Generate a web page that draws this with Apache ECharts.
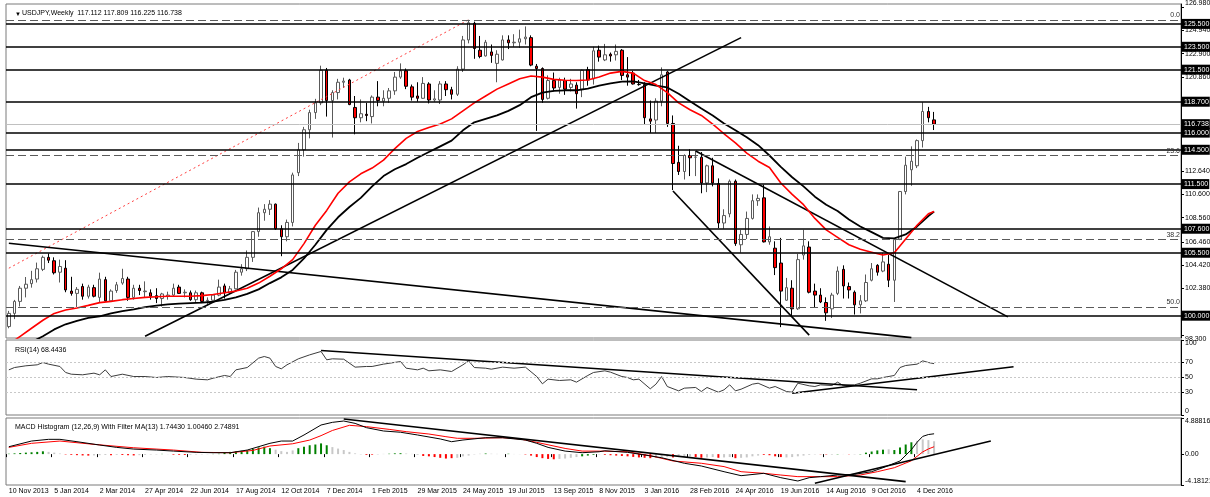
<!DOCTYPE html>
<html lang="en">
<head>
<meta charset="UTF-8">
<title>USDJPY Weekly</title>
<style>
    * { margin: 0; padding: 0; }
    body { background: #ffffff; }
    #chart { width: 1210px; height: 497px; }
</style>
<script src="https://cdn.jsdelivr.net/npm/echarts@6.0.0/dist/echarts.min.js"></script>
</head>
<body>
<div id="chart"></div>
<script>
// weekly bars from 10 Nov 2013: open, high, low, close
var ohlc = [
 [99.05,100.42,98.90,100.20],[100.20,101.38,99.70,101.25],[101.25,102.60,100.80,102.40],[102.40,103.38,101.60,102.75],
 [102.80,103.92,102.45,103.15],[103.20,104.64,102.90,104.10],[104.05,105.25,103.90,105.10],[105.10,105.44,104.60,104.85],
 [104.80,105.10,103.60,103.75],[103.80,104.90,102.90,104.30],[104.15,104.85,102.05,102.25],[102.15,103.40,101.75,101.95],
 [101.95,102.50,100.76,102.30],[102.55,102.80,101.40,101.70],[101.70,102.70,101.50,102.50],[102.45,102.70,101.60,101.70],
 [101.60,103.76,101.20,103.20],[103.15,103.40,101.20,101.30],[101.30,102.30,101.20,102.15],[102.20,102.95,102.00,102.70],
 [102.85,104.10,102.70,103.25],[103.20,103.40,101.30,101.60],[101.60,102.70,101.40,102.40],[102.40,102.70,101.80,102.20],
 [102.10,103.00,101.60,102.15],[102.00,102.30,101.40,101.70],[101.75,102.40,101.10,101.50],[101.50,102.00,100.80,101.90],
 [101.70,102.10,101.40,101.80],[101.80,102.80,101.70,102.40],[102.50,102.70,101.90,101.95],[102.00,102.30,101.60,102.05],
 [102.00,102.20,101.30,101.40],[101.40,102.20,101.20,102.00],[102.00,102.10,101.10,101.25],[101.30,101.60,100.90,101.35],
 [101.35,101.90,101.30,101.80],[101.80,103.15,101.70,102.50],[102.60,102.80,101.50,102.00],[102.00,102.60,101.90,102.35],
 [102.35,104.00,102.30,103.80],[103.80,104.50,103.50,104.10],[104.10,105.70,103.90,105.10],[105.10,107.40,104.70,107.35],
 [107.35,109.45,106.90,109.00],[109.00,109.75,108.30,109.30],[109.30,110.10,108.80,109.75],[109.75,109.80,107.50,107.60],
 [107.60,107.90,105.20,106.90],[106.90,108.40,106.50,108.15],[108.15,112.50,107.80,112.30],[112.50,115.10,112.20,114.50],
 [114.50,116.50,113.90,116.25],[116.25,118.00,115.50,117.75],[117.75,118.95,117.20,118.60],[118.60,121.85,118.40,121.45],
 [121.45,121.65,117.40,118.80],[118.80,119.70,115.57,119.50],[119.50,120.70,118.90,120.40],[120.40,120.80,119.90,120.50],
 [120.60,120.70,118.40,118.45],[118.20,119.20,115.85,117.30],[117.30,118.90,116.90,117.65],[117.60,118.60,117.00,117.50],
 [117.40,119.25,116.80,119.10],[119.10,120.50,118.30,118.80],[118.75,119.70,118.30,119.00],[119.00,119.90,118.60,119.65],
 [119.65,121.30,119.30,120.85],[120.85,122.05,120.70,121.40],[121.40,121.60,119.80,120.05],[120.00,120.20,118.80,119.10],
 [119.20,120.40,118.70,119.00],[119.00,120.85,118.95,120.30],[120.25,120.40,118.55,118.85],[118.85,119.70,118.70,118.95],
 [118.85,120.50,118.50,120.25],[120.25,120.50,119.20,119.75],[119.75,120.00,118.90,119.35],[119.35,121.80,119.20,121.55],
 [121.55,124.45,121.30,124.10],[124.10,125.86,123.80,125.60],[125.55,125.70,122.45,123.35],[123.20,124.45,122.50,122.65],
 [122.70,124.10,122.65,123.90],[123.05,123.70,122.10,122.75],[122.05,123.20,120.40,122.85],[122.35,124.50,122.30,124.10],
 [124.10,124.50,123.30,123.85],[123.85,124.60,123.50,123.90],[123.90,125.00,123.40,124.20],[124.20,125.28,123.70,124.35],
 [124.30,124.50,121.80,121.90],[121.80,122.00,116.15,121.60],[121.60,121.70,118.60,118.90],[119.00,121.00,118.90,120.55],
 [120.55,121.25,119.60,119.90],[119.95,120.80,119.40,120.60],[120.55,120.80,119.30,119.80],[119.95,120.70,119.60,120.25],
 [120.15,120.40,118.10,119.40],[119.80,121.50,119.10,121.45],[121.50,121.75,120.10,120.60],[120.70,123.50,120.20,123.15],
 [123.20,123.60,122.20,122.60],[122.35,123.75,122.25,122.80],[122.85,123.00,122.20,122.70],[122.80,123.70,122.30,123.10],
 [123.20,123.30,120.60,121.00],[121.05,122.60,120.10,120.85],[121.20,121.40,120.20,120.25],[120.20,120.60,120.10,120.20],
 [120.20,120.40,116.70,117.30],[117.20,118.80,115.98,117.00],[117.10,119.00,115.97,118.75],[118.75,121.70,118.30,121.05],
 [121.30,121.40,116.50,116.80],[116.80,117.50,110.98,113.30],[113.40,114.85,112.30,112.60],[112.60,114.10,111.90,114.00],
 [114.00,114.55,112.20,113.80],[113.85,114.40,112.20,113.85],[113.85,114.30,110.70,111.60],[111.60,113.20,110.80,113.10],
 [113.10,113.80,111.30,111.60],[111.55,112.00,107.65,108.10],[108.10,109.30,107.60,108.75],[108.90,111.90,108.60,111.75],
 [111.75,111.90,106.10,106.30],[106.20,107.50,105.50,107.10],[107.10,109.10,106.70,108.50],[108.50,110.60,108.40,110.05],
 [110.05,110.60,109.60,110.25],[110.30,111.45,106.40,106.45],[106.45,107.80,106.20,106.90],[105.90,106.50,103.55,104.20],
 [104.60,106.80,99.00,102.15],[101.35,103.30,101.30,102.45],[102.40,103.10,99.98,100.60],[100.60,105.40,100.50,104.90],
 [105.30,107.50,104.90,106.10],[106.00,106.50,101.95,102.05],[102.15,102.80,100.70,101.80],[101.80,102.40,101.10,101.20],
 [101.15,101.60,99.55,100.25],[100.60,102.00,99.80,101.80],[101.95,104.30,101.80,103.90],[104.05,104.40,101.50,102.60],
 [102.55,102.90,101.50,102.25],[102.05,102.20,100.10,100.95],[100.95,101.80,100.20,101.30],[101.30,103.60,101.20,102.90],
 [103.10,104.60,103.00,104.10],[104.40,104.50,103.50,103.80],[103.90,105.50,103.80,104.70],[104.50,105.30,102.50,103.10],
 [103.10,106.70,101.20,106.65],[106.70,110.90,106.60,110.85],[110.85,113.90,110.60,113.15],[112.75,114.80,111.35,113.50],
 [113.10,115.40,112.90,115.30],[115.30,118.66,114.70,117.85],[117.85,118.25,116.90,117.30],[117.112,117.809,116.225,116.738]
];
var weekCount = 207;   // bars plus the empty shift area on the right

var tickLabels = ['10 Nov 2013', '5 Jan 2014', '2 Mar 2014', '27 Apr 2014', '22 Jun 2014', '17 Aug 2014',
    '12 Oct 2014', '7 Dec 2014', '1 Feb 2015', '29 Mar 2015', '24 May 2015', '19 Jul 2015', '13 Sep 2015',
    '8 Nov 2015', '3 Jan 2016', '28 Feb 2016', '24 Apr 2016', '19 Jun 2016', '14 Aug 2016', '9 Oct 2016', '4 Dec 2016'];
var priceTicks = [126.98, 124.94, 122.90, 120.86, 112.64, 110.60, 108.56, 106.46, 104.42, 102.38, 98.30];
var levels = [125.5, 123.5, 121.5, 118.7, 116.0, 114.5, 111.5, 107.6, 105.5, 100.0];
var lastPrice = 116.738;
var fibLevels = [125.86, 114.01, 106.68, 100.76];
var fibNames = ['0.0', '23.6', '38.2', '50.0'];

// moving averages: [bar, price]
var redMa = [[0,97.5],[2,98.2],[4,98.9],[6,99.6],[8,100.2],[10,100.5],[12,100.67],[14,100.9],[16,101.14],[18,101.25],
 [20,101.4],[22,101.5],[24,101.6],[26,101.65],[28,101.7],[30,101.7],[32,101.7],[34,101.75],[36,101.85],[38,102.0],
 [40,102.15],[42,102.4],[44,102.85],[46,103.45],[48,104.1],[50,104.9],[52,106.3],[54,107.9],[56,109.2],[58,110.7],
 [60,111.7],[62,112.4],[64,112.9],[66,113.6],[68,114.6],[70,115.5],[72,116.1],[74,116.45],[76,116.75],[78,117.2],
 [80,117.9],[82,118.6],[84,119.2],[86,119.8],[88,120.25],[90,120.7],[92,120.95],[94,120.85],[96,120.65],[98,120.57],
 [100,120.56],[102,120.6],[104,120.86],[106,121.2],[108,121.35],[110,121.2],[112,120.55],[114,120.2],[116,119.5],
 [118,118.6],[120,118.0],[122,117.5],[124,116.75],[126,115.9],[128,115.1],[130,114.2],[132,113.5],[134,112.95],
 [136,111.6],[138,110.6],[140,109.7],[142,108.5],[144,107.5],[146,106.85],[148,106.2],[150,105.8],[152,105.55],
 [154,105.3],[156,105.5],[158,106.7],[160,107.9],[162,108.9],[163,109.1]];
var blackMa = [[4,97.7],[6,98.2],[8,98.8],[10,99.25],[12,99.55],[14,99.8],[16,99.95],[18,100.2],[20,100.4],[22,100.55],
 [24,100.75],[26,100.88],[28,100.98],[30,101.05],[32,101.1],[34,101.15],[36,101.22],[38,101.38],[40,101.6],[42,101.9],
 [44,102.3],[46,102.85],[48,103.35],[50,104.0],[52,105.0],[54,106.2],[56,107.5],[58,108.6],[60,109.5],[62,110.3],
 [64,111.3],[66,112.2],[68,112.8],[70,113.25],[72,113.8],[74,114.3],[76,114.8],[78,115.3],[80,116.2],[82,116.9],
 [84,117.2],[86,117.5],[88,117.9],[90,118.4],[92,119.1],[94,119.5],[96,119.65],[98,119.7],[100,119.7],[102,119.85],
 [104,120.1],[106,120.3],[108,120.45],[110,120.48],[112,120.3],[114,120.1],[116,119.95],[118,119.4],[120,118.75],
 [122,118.1],[124,117.5],[126,116.8],[128,116.2],[130,115.6],[132,114.9],[134,114.0],[136,113.0],[138,112.1],
 [140,111.3],[142,110.4],[144,109.7],[146,109.15],[148,108.4],[150,107.8],[152,107.3],[154,106.8],[156,106.75],
 [158,107.1],[160,107.8],[162,108.7],[163,109.1]];

// hand drawn lines on the price pane: [bar, price] end points
var trendFall = [[0,106.33],[159,98.08]];
var trendRise = [[24,98.2],[129,124.3]];
var channelLow = [[117,110.9],[141,98.3]];
var channelHigh = [[121,114.4],[176,99.9]];
var redDotted = [[0,104.15],[81,125.86]];

// RSI(14)
var rsi = [[0,60.2],[1,63.3],[3,65.6],[5,66.9],[6,70],[7,67.8],[9,64.7],[10,56.7],[11,54.4],[13,53.6],[15,55.8],[16,53.6],
 [17,60.2],[18,51.3],[20,54.4],[22,51.3],[24,51.3],[26,50],[28,51.3],[31,50],[33,47.8],[35,46.9],[36,49.1],[38,52.7],
 [39,51.3],[40,60.2],[42,63.3],[44,75.8],[45,78],[46,75.8],[47,64.7],[48,61.6],[49,66.9],[51,74.9],[53,80.2],[55,84.7],
 [56,73.6],[57,74.9],[59,74.4],[61,63.8],[63,64.7],[64,64.7],[66,67.8],[69,71.3],[70,62.4],[72,60.2],[73,62.4],[74,58.9],
 [76,60.2],[78,58],[80,66.9],[81,72.2],[82,63.3],[84,62.4],[85,61.1],[87,63.8],[89,62.4],[91,63.8],[93,51.3],[94,41.6],
 [95,47.8],[97,46],[99,46.9],[100,43.8],[102,52.7],[103,56.7],[105,58.9],[106,57.1],[108,51.3],[109,50],[110,46.9],
 [111,47.8],[113,34.9],[114,41.1],[115,51.3],[116,38],[118,32.2],[119,35.8],[121,36.7],[122,31.3],[123,36.7],[125,30.4],
 [126,33.6],[127,40.2],[128,32.2],[129,34.4],[131,41.1],[132,42.4],[134,35.8],[135,38],[137,31.3],[138,30.4],[139,42.4],
 [141,38.9],[142,38],[143,40.2],[145,39.3],[146,43.8],[147,39.3],[149,40.2],[150,42.4],[152,48.2],[153,48.2],[154,50],
 [156,52.7],[157,63.3],[158,66],[160,67.8],[161,72.2],[162,70],[163,68.44]];
var rsiLevels = [70, 50, 30];
var rsiTrendFall = [[55,86.1],[160,33.7]];
var rsiTrendRise = [[138,29.1],[177,64.4]];

// MACD histogram, one value per bar; colour code g = green, r = red, s = silver
var macdHist = [0.05,0.1,0.15,0.2,0.25,0.3,0.38, 0.3,0.2,0.08, -0.05,-0.1,-0.14,-0.18,-0.2, -0.17,-0.14,-0.12,
 -0.15,-0.1,-0.12,-0.15,-0.18, -0.14,-0.1,-0.06,-0.05,0.03,-0.02, -0.08,-0.1,-0.12, -0.08,-0.06,-0.05,-0.03,0.03,0.05,
 0.2,0.3,0.35,0.45,0.5,0.7,0.9,1.0, 0.8,0.6,0.4,0.3, 0.5,0.8,1.0,1.2,1.3,1.45,
 1.2,0.95,0.75,0.55,0.3,0.1,-0.05,-0.1,-0.08,-0.05, 0.03,0.05,0.1,0.12,0.08,0.03,
 -0.1,-0.25,-0.3,-0.4,-0.5,-0.6,-0.55,-0.5, -0.3,-0.2,-0.05,0.05,0.08,0.05,0.03,0.0,0.05,0.02,-0.02,
 -0.05,-0.2,-0.4,-0.55,-0.65,-0.7, -0.65,-0.6,-0.5,-0.4,-0.3,-0.2,-0.1,-0.05,
 -0.1,-0.15,-0.2,-0.25,-0.3,-0.38,-0.45,-0.5,-0.55,
 -0.5,-0.45,-0.4,-0.45,-0.4,-0.35,-0.3,-0.4,-0.5,-0.45,-0.4,-0.5,-0.45,-0.4,-0.55,-0.5,-0.45,-0.3,-0.2,-0.1,
 -0.15,-0.3,-0.4,-0.45,-0.4,-0.3,-0.2,-0.1,-0.05,-0.03,-0.05,-0.08,-0.04,0.02,-0.03,-0.05,-0.04,
 0.2,0.35,0.5,0.6,0.65,0.55,0.9,1.3,1.6,1.8,2.0,1.9,1.74];
var macdColors = 'gggggggsssrrrrrsssrsrrrssssgsrrrssssgggggggggggssssgggggg' +
 'ssssssrrssgggsssrrrrrrsssssgsssgssrrrrrrssssgggsrrrrrrrrr' +
 'sssrsssrrssrssrssssrrrrssssssrrsgsrsgggggsggggss';
var macdLine = [[0,1.0],[4,1.77],[7,2.0],[9,2.0],[12,1.68],[16,1.23],[19,0.91],[22,0.68],[26,0.55],[29,0.41],[33,0.24],
 [36,0.19],[39,0.19],[42,0.55],[46,1.46],[48,1.77],[50,1.77],[52,2.59],[55,3.94],[57,4.3],[59,4.48],[61,4.16],[63,3.58],
 [66,3.13],[69,2.96],[72,2.59],[76,2.05],[78,1.68],[80,1.91],[84,2.22],[87,2.22],[91,1.91],[93,1.46],[95,0.91],[98,0.41],
 [101,0.19],[104,0.32],[105,0.45],[109,0.24],[112,-0.12],[115,-0.49],[119,-1.24],[122,-1.61],[126,-2.38],[129,-2.92],
 [133,-2.6],[136,-3.19],[139,-3.64],[141,-3.19],[143,-3.05],[146,-2.83],[149,-2.73],[152,-2.38],[154,-1.84],[157,-0.93],
 [159,0.6],[160,1.6],[161,2.4],[162,2.65],[163,2.75]];
var signalLine = [[0,0.91],[4,1.46],[9,1.77],[15,1.32],[22,0.86],[29,0.55],[34,0.24],[39,0.19],[43,0.5],[46,1.1],
 [50,1.4],[53,1.9],[55,2.5],[57,3.2],[60,3.9],[63,3.72],[67,3.35],[70,3.04],[74,2.72],[77,2.36],[79,2.14],[82,2.14],
 [87,2.22],[90,2.05],[93,1.59],[98,0.77],[101,0.41],[105,0.4],[109,0.32],[113,-0.21],[117,-0.93],[122,-1.24],
 [126,-1.69],[129,-2.38],[133,-2.6],[136,-2.83],[139,-3.05],[143,-3.05],[146,-3.05],[150,-2.83],[153,-2.38],
 [156,-1.84],[159,-0.9],[161,0.3],[162,0.7],[163,1.0]];
var macdTrendFall = [[59,4.75],[158,-3.73]];
var macdTrendRise = [[142,-3.95],[173,1.77]];

var months = ['Jan','Feb','Mar','Apr','May','Jun','Jul','Aug','Sep','Oct','Nov','Dec'];
var weeks = [];
for (var i = 0; i < weekCount; i++) {
    var d = new Date(Date.UTC(2013, 10, 10 + 7 * i));
    weeks.push(d.getUTCDate() + ' ' + months[d.getUTCMonth()] + ' ' + d.getUTCFullYear());
}

var font = 'Liberation Sans';
var small = 7;
var colorMap = { g: '#008000', r: '#ff0000', s: '#c8c8c8' };

function line(data, color, width, xi, type) {
    return {
        type: 'line', data: data, xAxisIndex: xi, yAxisIndex: xi,
        showSymbol: false, symbol: 'none', silent: true, clip: true,
        lineStyle: { color: color, width: width, type: type || 'solid' }
    };
}

var tagLabel = {
    show: true, position: 'end', distance: 1,
    formatter: function (p) { return Number(p.value).toFixed(3); },
    backgroundColor: '#000', color: '#fff', fontFamily: font, fontSize: small,
    padding: [2, 1, 1, 2]
};

var markData = levels.map(function (v) {
    return { yAxis: v, lineStyle: { color: '#000', width: 1.5, type: 'solid' }, label: tagLabel };
});
markData.push({ yAxis: lastPrice, lineStyle: { color: '#c0c0c0', width: 1, type: 'solid' }, label: tagLabel });
fibLevels.forEach(function (v, i) {
    markData.push({
        yAxis: v, lineStyle: { color: '#5a5a5a', width: 1, type: [8, 4] },
        label: { show: true, position: 'insideEndTop', distance: [1, 1], formatter: fibNames[i],
                 color: '#303030', fontFamily: font, fontSize: small }
    });
});

function xAxis(gi, showLabel) {
    return {
        type: 'category', gridIndex: gi, data: weeks, boundaryGap: true,
        axisLine: { show: false },
        axisTick: { show: showLabel, length: 3, lineStyle: { color: '#000' },
                    interval: function (idx, val) { return tickLabels.indexOf(val) >= 0; } },
        axisLabel: { show: showLabel, align: 'left', margin: 3, color: '#000', fontFamily: font, fontSize: small,
                     interval: function (idx, val) { return tickLabels.indexOf(val) >= 0; } },
        splitLine: { show: false }
    };
}

function yAxis(gi, min, max, ticks, fmt) {
    return {
        type: 'value', gridIndex: gi, position: 'right', min: min, max: max, scale: true,
        axisLine: { show: true, lineStyle: { color: '#000', width: 1 } },
        axisTick: { show: true, length: 3, customValues: ticks, lineStyle: { color: '#000' } },
        axisLabel: { customValues: ticks, formatter: fmt, margin: 4, color: '#000', fontFamily: font, fontSize: small,
                     verticalAlignMinLabel: 'bottom', verticalAlignMaxLabel: 'top' },
        splitLine: { show: false }
    };
}

var gridBase = { left: 6, right: 29, show: true, borderColor: '#7a7a7a', borderWidth: 1, outerBoundsMode: 'none' };

var chart = echarts.init(document.getElementById('chart'));
var option = {
    animation: false,
    backgroundColor: '#fff',
    title: [
        { text: '\u25BC', left: 10, top: 6, textStyle: { fontSize: 6, fontWeight: 'normal', color: '#000', fontFamily: font } },
        { text: 'USDJPY,Weekly  117.112 117.809 116.225 116.738', left: 17, top: 5,
          textStyle: { fontSize: small, fontWeight: 'normal', color: '#000', fontFamily: font } },
        { text: 'RSI(14) 68.4436', left: 10, top: 342,
          textStyle: { fontSize: small, fontWeight: 'normal', color: '#000', fontFamily: font } },
        { text: 'MACD Histogram (12,26,9) With Filter MA(13) 1.74430 1.00460 2.74891', left: 10, top: 419,
          textStyle: { fontSize: small, fontWeight: 'normal', color: '#000', fontFamily: font } }
    ],
    grid: [
        Object.assign({ top: 4, height: 334 }, gridBase),
        Object.assign({ top: 340, height: 75 }, gridBase),
        Object.assign({ top: 418, height: 67 }, gridBase)
    ],
    xAxis: [xAxis(0, false), xAxis(1, false), xAxis(2, true)],
    yAxis: [
        yAxis(0, 98.05, 127.24, priceTicks, function (v) { return v.toFixed(3); }),
        yAxis(1, 0, 100, [0, 30, 50, 70, 100], function (v) { return String(Math.round(v)); }),
        yAxis(2, -4.18121, 4.88816, [-4.18121, 0, 4.88816],
              function (v) { return Math.abs(v) < 1e-9 ? '0.00' : v.toFixed(5); })
    ],
    series: [
        {
            type: 'candlestick', xAxisIndex: 0, yAxisIndex: 0, barWidth: 3, silent: true, clip: true,
            data: ohlc.map(function (b) { return [b[0], b[3], b[2], b[1]]; }),
            itemStyle: { color: '#ffffff', color0: '#ff0000', borderColor: '#5a5a5a', borderColor0: '#000000', borderWidth: 1 },
            markLine: { symbol: ['none', 'none'], silent: true, animation: false, precision: 3, data: markData }
        },
        line(redDotted, '#ff4040', 1, 0, [2, 3]),
        line(trendFall, '#000', 1.6, 0),
        line(trendRise, '#000', 1.6, 0),
        line(channelLow, '#000', 1.6, 0),
        line(channelHigh, '#000', 1.6, 0),
        line(blackMa, '#000', 1.8, 0),
        line(redMa, '#ff0000', 1.6, 0),
        Object.assign(line(rsi, '#3c3c3c', 1, 1), {
            markLine: { symbol: ['none', 'none'], silent: true, animation: false, label: { show: false },
                        lineStyle: { color: '#c8c8c8', width: 1, type: [2, 2] },
                        data: rsiLevels.map(function (v) { return { yAxis: v }; }) }
        }),
        line(rsiTrendFall, '#000', 1.6, 1),
        line(rsiTrendRise, '#000', 1.6, 1),
        {
            type: 'bar', xAxisIndex: 2, yAxisIndex: 2, barWidth: 2, silent: true,
            data: macdHist.map(function (v, i) {
                return { value: v, itemStyle: { color: colorMap[macdColors.charAt(i)] || '#c8c8c8' } };
            })
        },
        line(signalLine, '#ff0000', 1, 2),
        line(macdLine, '#000', 1, 2),
        line(macdTrendFall, '#000', 1.6, 2),
        line(macdTrendRise, '#000', 1.6, 2)
    ]
};
chart.setOption(option);

window.onresize = function () { chart.resize(); };
</script>
</body>
</html>
